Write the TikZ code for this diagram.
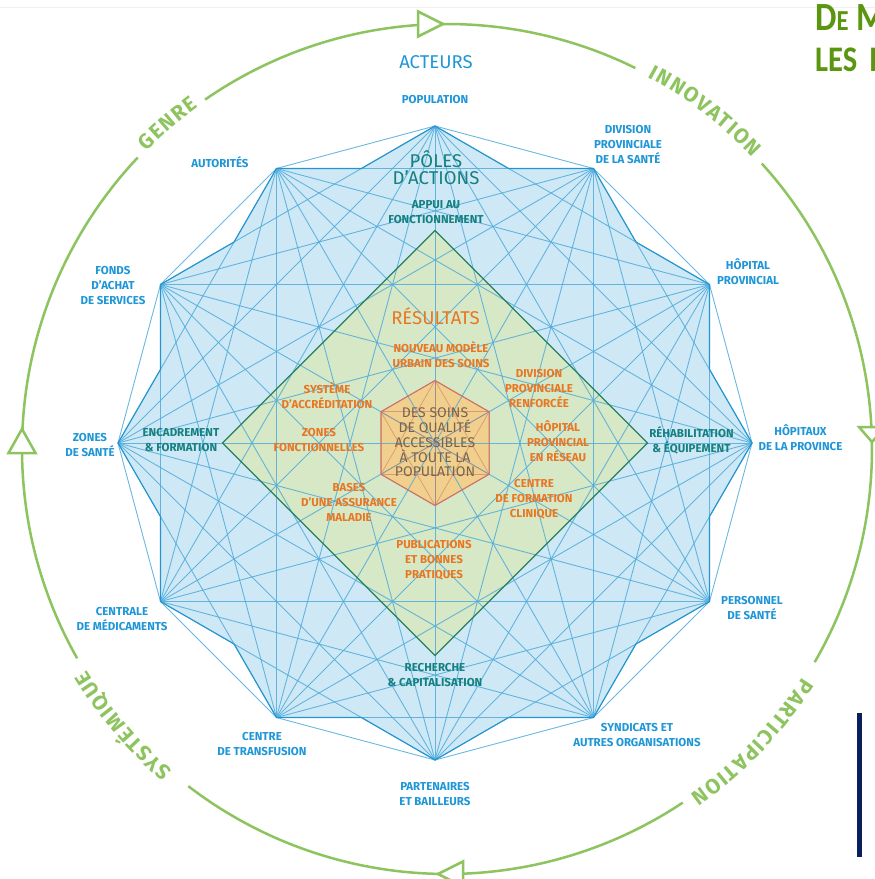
\documentclass[tikz,border=0pt]{standalone}
\usepackage{fontspec}
\setmainfont{Fira Sans}
\newfontfamily\titlefont{Carlito}
\usetikzlibrary{calc}
\definecolor{actblue}{RGB}{30,150,215}
\definecolor{poleteal}{RGB}{20,128,128}
\definecolor{resorange}{RGB}{232,118,35}
\definecolor{coretext}{RGB}{118,100,82}
\definecolor{starfill}{RGB}{207,232,245}
\definecolor{starline}{RGB}{35,150,210}
\definecolor{chordblue}{RGB}{80,172,220}
\definecolor{diafill}{RGB}{214,232,197}
\definecolor{dialine}{RGB}{40,130,95}
\definecolor{hexfill}{RGB}{240,208,140}
\definecolor{hexline}{RGB}{205,115,105}
\definecolor{ringgreen}{RGB}{141,196,95}
\definecolor{titlegreen}{RGB}{90,150,15}
\definecolor{navybar}{RGB}{10,30,90}
\begin{document}
\begin{tikzpicture}[x=1pt,y=-1pt,
  act/.style={text=actblue, font=\fontsize{11.5}{15}\selectfont\bfseries, align=center, inner sep=0pt},
  pole/.style={act, text=poleteal},
  res/.style={act, text=resorange},
  head/.style={font=\fontsize{18.5}{17}\selectfont, align=center, inner sep=0pt},
  core/.style={text=coretext, font=\fontsize{14}{14.7}\selectfont, align=center, inner sep=0pt},
  chord/.style={draw=chordblue, line width=0.9pt, opacity=0.85},
  hexchord/.style={draw=hexline, line width=0.7pt, opacity=0.6},
  ring/.style={draw=ringgreen, line width=2.5pt},
  ringletter/.style={text=ringgreen, font=\fontsize{21}{21}\selectfont\bfseries, inner sep=0pt, text height=14.5pt, text depth=0pt},
  titletext/.style={text=titlegreen, anchor=base west, inner sep=0pt, xscale=0.85}
]
\clip (0,0) rectangle (875,879);
\fill[white] (0,0) rectangle (875,879);
\draw[black!6, line width=0.6pt] (0,7) -- (875,7);

% star (union of two hexagons)
\fill[starfill] plot[samples at={0,...,23}] ({435+(317-32.8*mod(\x,2))*cos(90-15*\x)},{443-(317-32.8*mod(\x,2))*sin(90-15*\x)}) -- cycle;
% diamond
\fill[diafill] (435,230.5) -- (647.5,443) -- (435,655.5) -- (222.5,443) -- cycle;
% hexagon
\foreach \k in {0,...,5} \coordinate (h\k) at ({435+62.5*cos(90-60*\k)},{443-62.5*sin(90-60*\k)});
\fill[hexfill] (h0)--(h1)--(h2)--(h3)--(h4)--(h5)--cycle;
% actor points
\foreach \k in {0,...,11} \coordinate (p\k) at ({435+317*cos(90-30*\k)},{443-317*sin(90-30*\k)});
% all chords
\foreach \i in {0,...,10}{\pgfmathtruncatemacro{\js}{\i+1}\foreach \j in {\js,...,11}{\draw[chord] (p\i)--(p\j);}}
\foreach \i in {0,...,4}{\pgfmathtruncatemacro{\js}{\i+1}\foreach \j in {\js,...,5}{\draw[hexchord] (h\i)--(h\j);}}
% outlines
\draw[dialine, line width=1.1pt] (435,230.5) -- (647.5,443) -- (435,655.5) -- (222.5,443) -- cycle;
\draw[hexline, line width=1.1pt] (h0)--(h1)--(h2)--(h3)--(h4)--(h5)--cycle;
\draw[starline, line width=1.1pt, line join=miter] plot[samples at={0,...,23}] ({435+(317-32.8*mod(\x,2))*cos(90-15*\x)},{443-(317-32.8*mod(\x,2))*sin(90-15*\x)}) -- cycle;

% labels
\node[head, text=actblue] (acteurs) at (436,62) {ACTEURS};
\node[act] (population) at (435,100) {POPULATION};
\node[head, text=poleteal] (poles) at (436,167.5) {PÔLES\\D’ACTIONS};
\node[pole] (appui) at (436,212.5) {APPUI AU\\FONCTIONNEMENT};
\node[act] (division) at (628,145) {DIVISION\\PROVINCIALE\\DE LA SANTÉ};
\node[act] (autorites) at (220,162.5) {AUTORITÉS};
\node[act] (hopprov) at (748,271.5) {HÔPITAL\\PROVINCIAL};
\node[act] (fonds) at (113,286) {FONDS\\D’ACHAT\\DE SERVICES};
\node[act] (zones) at (90,445) {ZONES\\DE SANTÉ};
\node[pole] (encadrement) at (181,440.5) {ENCADREMENT\\\& FORMATION};
\node[pole] (rehab) at (691.5,440.5) {RÉHABILITATION\\\& ÉQUIPEMENT};
\node[act] (hopitaux) at (800.5,438) {HÔPITAUX\\DE LA PROVINCE};
\node[act] (centrale) at (122,619) {CENTRALE\\DE MÉDICAMENTS};
\node[act] (personnel) at (752,608) {PERSONNEL\\DE SANTÉ};
\node[act] (transfusion) at (262,744.5) {CENTRE\\DE TRANSFUSION};
\node[act] (syndicats) at (637,735) {SYNDICATS ET\\AUTRES ORGANISATIONS};
\node[pole] (recherche) at (435,675.5) {RECHERCHE\\\& CAPITALISATION};
\node[act] (partenaires) at (435,794.5) {PARTENAIRES\\ET BAILLEURS};
\node[head, text=resorange] (resultats) at (435.5,316) {RÉSULTATS};
\node[res] (nouveau) at (441,354.5) {NOUVEAU MODÈLE\\URBAIN DES SOINS};
\node[res] (accred) at (327,395.5) {SYSTÈME\\D’ACCRÉDITATION};
\node[res] (divrenf) at (539,389) {DIVISION\\PROVINCIALE\\RENFORCÉE};
\node[res] (zonesf) at (319,440.5) {ZONES\\FONCTIONNELLES};
\node[res] (hopres) at (558,441) {HÔPITAL\\PROVINCIAL\\EN RÉSEAU};
\node[res] (bases) at (349,502.5) {BASES\\D’UNE ASSURANCE\\MALADIE};
\node[res] (cfc) at (534,499) {CENTRE\\DE FORMATION\\CLINIQUE};
\node[res] (publi) at (434,560) {PUBLICATIONS\\ET BONNES\\PRATIQUES};
\node[core] (coretxt) at (435,442.5) {DES SOINS\\DE QUALITÉ\\ACCESSIBLES\\À TOUTE LA\\POPULATION};

% ring
\draw[ring] plot[domain=63.7:124.7, samples=80] ({447+425*cos(\x)},{449-425*sin(\x)});
\draw[ring] plot[domain=-30.1:42.2, samples=80] ({447+425*cos(\x)},{449-425*sin(\x)});
\draw[ring] plot[domain=-127.5:-56.3, samples=80] ({447+425*cos(\x)},{449-425*sin(\x)});
\draw[ring] plot[domain=136.7:209.5, samples=80] ({447+425*cos(\x)},{449-425*sin(\x)});
\filldraw[ring, fill=white] (418,11.5) -- (443,24) -- (418,36.5) -- cycle;
\filldraw[ring, fill=white] (8.5,453) -- (22,429) -- (35.5,453) -- cycle;
\filldraw[ring, fill=white] (859,427) -- (872,442) -- (885,427) -- cycle;
\filldraw[ring, fill=white] (463,861.5) -- (438,874) -- (463,886.5) -- cycle;

\foreach \l/\a [count=\n] in {G/134.37, E/132.48, N/130.57, R/128.56, E/126.74}
  \node[ringletter, rotate=\a-90] (genre\n) at ({447+430*cos(\a)},{449-430*sin(\a)}) {\l};
\foreach \l/\a [count=\n] in {I/61.2, N/59.59, N/57.49, O/55.40, V/53.41, A/51.52, T/49.72, I/48.31, O/46.72, N/44.63}
  \node[ringletter, rotate=\a-90] (innov\n) at ({447+430*cos(\a)},{449-430*sin(\a)}) {\l};
\foreach \l/\a [count=\n] in {P/-33.6, A/-35.50, R/-37.41, T/-39.22, I/-40.63, C/-42.09, I/-43.56, P/-45.07, A/-46.97, T/-48.77, I/-50.17, O/-51.77, N/-53.86}
  \node[ringletter, rotate=\a-90] (partic\n) at ({447+430*cos(\a)},{449-430*sin(\a)}) {\l};
\foreach \l/\a [count=\n] in {S/228.7, Y/226.92, S/225.13, T/223.42, É/221.71, M/219.61, I/217.81, Q/216.22, U/214.15, E/212.27}
  \node[ringletter, rotate=\a-90] (system\n) at ({447+430*cos(\a)},{449-430*sin(\a)}) {\l};

% title and bar
\node[titletext] (title1) at (815,30) {\titlefont\bfseries\fontsize{40}{40}\selectfont D\fontsize{29}{29}\selectfont E\hspace{9pt}\fontsize{40}{40}\selectfont M};
\node[titletext] (title2) at (815,71) {\titlefont\bfseries\fontsize{36}{36}\selectfont LES\hspace{14pt}I};
\fill[navybar] (857,713) rectangle (862,857);
\end{tikzpicture}
\end{document}
